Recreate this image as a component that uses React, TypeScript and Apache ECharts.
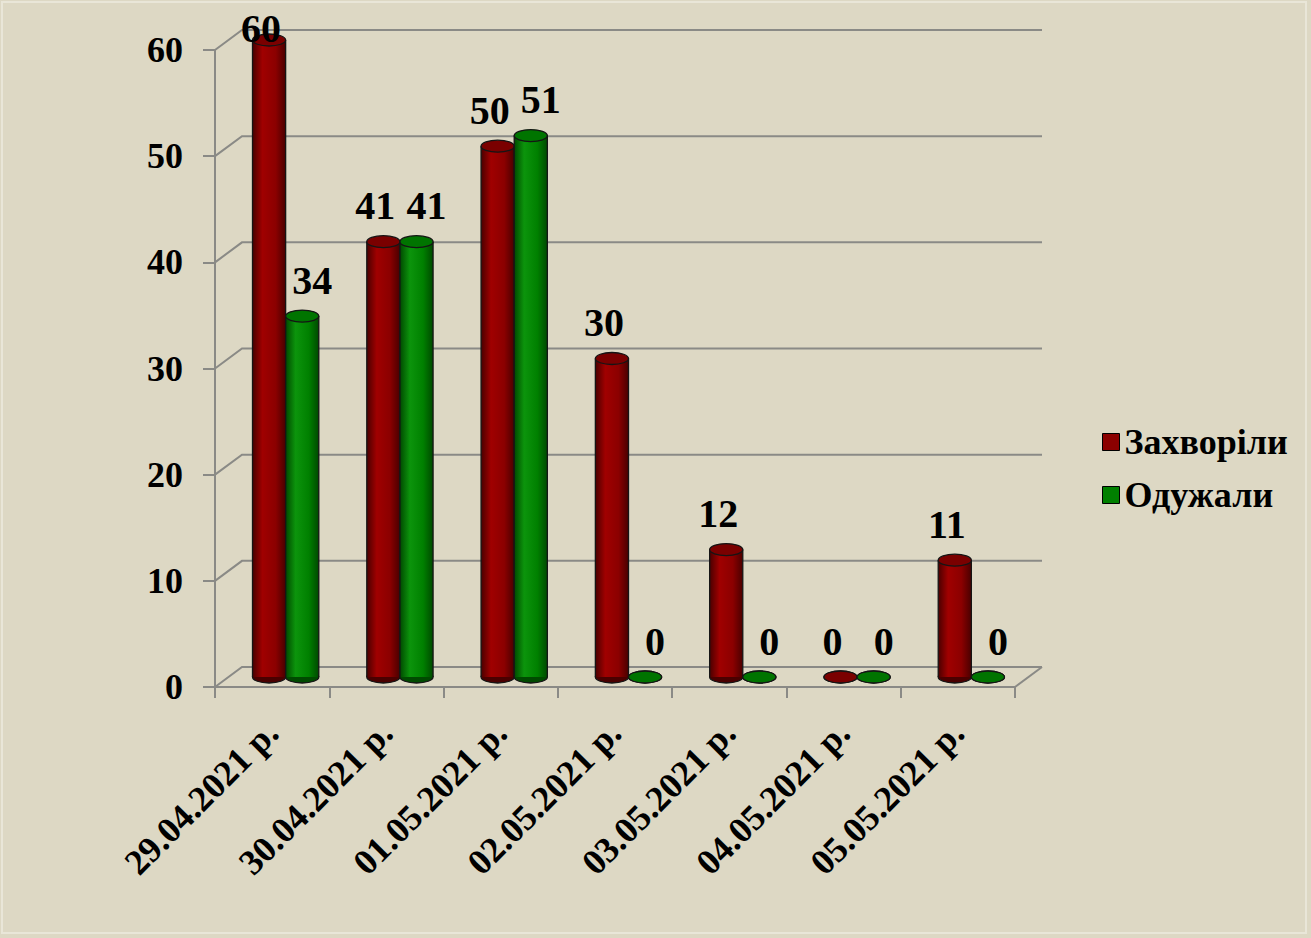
import React, { useEffect, useRef } from "react";
import * as echarts from "echarts";

const categories = [
  "29.04.2021 р.",
  "30.04.2021 р.",
  "01.05.2021 р.",
  "02.05.2021 р.",
  "03.05.2021 р.",
  "04.05.2021 р.",
  "05.05.2021 р.",
];
const sickValues = [60, 41, 50, 30, 12, 0, 11];
const recoveredValues = [34, 41, 51, 0, 0, 0, 0];
const yTicks = [0, 10, 20, 30, 40, 50, 60];
const seriesNames = ["Захворіли", "Одужали"];

const DX = 27;
const DY = -20;
const GRID_COLOR = "#8A8A86";
const FONT = '"Liberation Serif", "Times New Roman", serif';

const palettes = [
  { base: "#8B0000", dark: "#4A0000", light: "#A00000", top: "#7A0000", labelDx: -8, side: -1 },
  { base: "#008000", dark: "#004A00", light: "#0C940C", top: "#007400", labelDx: 10, side: 1 },
];

function makeCylinderRender(idx: number) {
  const pal = palettes[idx];
  return (params: any, api: any) => {
    const i = api.value(0);
    const v = api.value(1);
    const p = api.coord([i, v]);
    const p0 = api.coord([i, 0]);
    const band = api.size([1, 0])[0];
    const w = band * 0.29;
    const cx = p[0] + DX / 2 + (pal.side * w) / 2;
    const yTop = p[1] + DY / 2;
    const yBase = p0[1] + DY / 2;
    const ry = 6;
    const grad = new echarts.graphic.LinearGradient(0, 0, 1, 0, [
      { offset: 0, color: pal.dark },
      { offset: 0.3, color: pal.light },
      { offset: 0.7, color: pal.base },
      { offset: 1, color: pal.dark },
    ]);
    const children: any[] = [
      {
        type: "ellipse",
        shape: { cx, cy: yBase, rx: w / 2, ry },
        style: { fill: pal.dark, stroke: "#151515", lineWidth: 1.3 },
      },
      {
        type: "rect",
        shape: { x: cx - w / 2, y: yTop, width: w, height: Math.max(0, yBase - yTop) },
        style: { fill: grad },
      },
      {
        type: "line",
        shape: { x1: cx - w / 2, y1: yTop, x2: cx - w / 2, y2: yBase },
        style: { stroke: "#151515", lineWidth: 1.3 },
      },
      {
        type: "line",
        shape: { x1: cx + w / 2, y1: yTop, x2: cx + w / 2, y2: yBase },
        style: { stroke: "#151515", lineWidth: 1.3 },
      },
      {
        type: "ellipse",
        shape: { cx, cy: yTop, rx: w / 2, ry },
        style: { fill: pal.top, stroke: "#151515", lineWidth: 1.3 },
      },
      {
        type: "text",
        z2: 100,
        style: {
          text: String(v),
          x: cx + pal.labelDx,
          y: Math.max(yTop - 36, 28),
          align: "center",
          verticalAlign: "middle",
          fontSize: 40,
          fontWeight: "bold",
          fontFamily: FONT,
          fill: "#000",
        },
      },
    ];
    return { type: "group", children };
  };
}

function renderGrid(params: any, api: any) {
  const v = api.value(1);
  const cs = params.coordSys;
  const y = api.coord([0, v])[1];
  const x0 = cs.x;
  const x1 = cs.x + cs.width;
  const children: any[] = [
    {
      type: "polyline",
      shape: {
        points: [
          [x0, y],
          [x0 + DX, y + DY],
          [x1 + DX, y + DY],
        ],
      },
      style: { stroke: GRID_COLOR, lineWidth: 2, fill: "none" },
    },
  ];
  if (v === 0) {
    children.push({
      type: "line",
      shape: { x1: x1, y1: y, x2: x1 + DX, y2: y + DY },
      style: { stroke: GRID_COLOR, lineWidth: 2 },
    });
  }
  return { type: "group", children };
}

export default function App() {
  const ref = useRef<HTMLDivElement>(null);
  useEffect(() => {
    if (!ref.current) return;
    const chart = echarts.init(ref.current, undefined, { renderer: "svg" });
    chart.setOption({
      animation: false,
      backgroundColor: "#DDD8C4",
      graphic: [
        {
          type: "rect",
          shape: { x: 2, y: 2, width: 1304, height: 931 },
          style: { fill: "none", stroke: "#E9E6D8", lineWidth: 2 },
          silent: true,
        },
      ],
      legend: {
        data: seriesNames,
        orient: "vertical",
        left: 1097,
        top: 419,
        itemWidth: 17,
        itemHeight: 17,
        itemGap: 17,
        icon: "rect",
        itemStyle: { borderColor: "#000", borderWidth: 1 },
        textStyle: { fontSize: 36, fontWeight: "bold", fontFamily: FONT, color: "#000" },
      },
      grid: { left: 215, top: 50, width: 800, height: 637 },
      xAxis: {
        type: "category",
        data: categories,
        boundaryGap: true,
        axisLine: { show: true, lineStyle: { color: GRID_COLOR, width: 2 } },
        axisTick: { show: true, length: 11, lineStyle: { color: GRID_COLOR, width: 2 } },
        axisLabel: {
          interval: 0,
          rotate: 45,
          margin: 40,
          fontSize: 36,
          fontWeight: "bold",
          fontFamily: FONT,
          color: "#000",
        },
        splitLine: { show: false },
      },
      yAxis: {
        type: "value",
        min: 0,
        max: 60,
        interval: 10,
        axisLine: { show: true, lineStyle: { color: GRID_COLOR, width: 2 } },
        axisTick: { show: true, length: 12, lineStyle: { color: GRID_COLOR, width: 2 } },
        axisLabel: {
          margin: 32,
          fontSize: 36,
          fontWeight: "bold",
          fontFamily: FONT,
          color: "#000",
        },
        splitLine: { show: false },
      },
      series: [
        {
          type: "custom",
          name: "grid",
          silent: true,
          z: 1,
          encode: { x: 0, y: 1 },
          data: yTicks.map((t) => [0, t]),
          renderItem: renderGrid,
        },
        {
          type: "custom",
          name: seriesNames[0],
          z: 3,
          encode: { x: 0, y: 1 },
          itemStyle: { color: palettes[0].base },
          data: sickValues.map((v, i) => [i, v]),
          renderItem: makeCylinderRender(0),
        },
        {
          type: "custom",
          name: seriesNames[1],
          z: 4,
          encode: { x: 0, y: 1 },
          itemStyle: { color: palettes[1].base },
          data: recoveredValues.map((v, i) => [i, v]),
          renderItem: makeCylinderRender(1),
        },
      ],
    });
    return () => chart.dispose();
  }, []);
  return (
    <div
      ref={ref}
      style={{ position: "fixed", left: 0, top: 0, width: 1311, height: 938 }}
    />
  );
}
